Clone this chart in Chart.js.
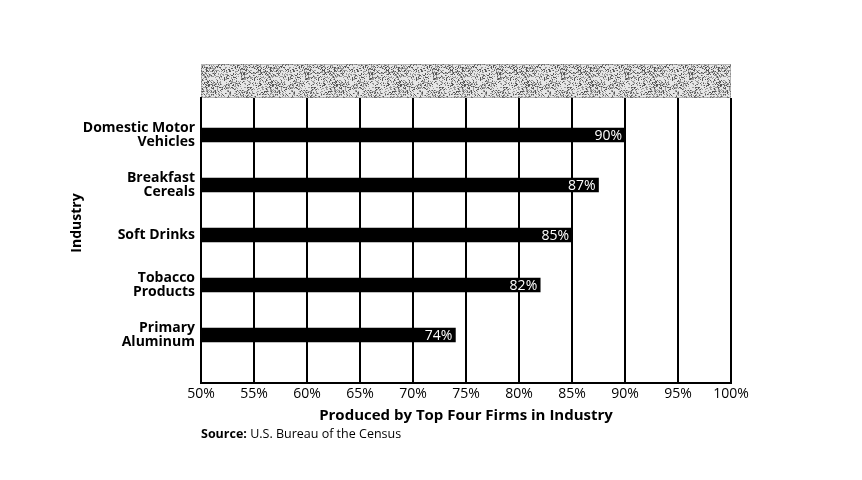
<!DOCTYPE html>
<html>
<head>
<meta charset="utf-8">
<script src="https://cdn.jsdelivr.net/npm/chart.js@4.4.0/dist/chart.umd.min.js"></script>
<style>
  html, body { margin: 0; padding: 0; background: #fff; }
  #wrap { width: 862px; height: 480px; }
</style>
</head>
<body>
<div id="wrap"><canvas id="concChart"></canvas></div>
<script>
// 行业与份额（四大企业产出占比）
const industries = [
    ['Domestic Motor', 'Vehicles'],
    ['Breakfast', 'Cereals'],
    ['Soft Drinks'],
    ['Tobacco', 'Products'],
    ['Primary', 'Aluminum']
];
const shares = [90, 87.5, 85, 82, 74];          // 图中条形长度
const shareLabels = ['90%', '87%', '85%', '82%', '74%']; // 条内标注
const xTicks = [50, 55, 60, 65, 70, 75, 80, 85, 90, 95, 100];

const FONT = "'Open Sans', 'DejaVu Sans', sans-serif";
Chart.defaults.font.family = FONT;
Chart.defaults.color = '#000';

// 点状纹理（顶部灰框）
function makeStipple() {
    const c = document.createElement('canvas');
    c.width = 64; c.height = 64;
    const g = c.getContext('2d');
    g.fillStyle = '#e6e6e6';
    g.fillRect(0, 0, 64, 64);
    let s = 12345;
    for (let y = 0; y < 64; y++) {
        for (let x = 0; x < 64; x++) {
            s = (s * 1103515245 + 12345) & 0x7fffffff;
            const r = (s >> 8) % 100;
            if (r < 38) {
                g.fillStyle = r < 14 ? '#555' : '#999';
                g.fillRect(x, y, 1, 1);
            }
        }
    }
    return c;
}

const stippleBox = {
    id: 'stippleBox',
    beforeDraw(chart) {
        const { ctx, chartArea } = chart;
        const h = 34;
        ctx.save();
        ctx.fillStyle = ctx.createPattern(makeStipple(), 'repeat');
        ctx.fillRect(chartArea.left, chartArea.top - h, chartArea.right - chartArea.left, h);
        ctx.strokeStyle = '#888';
        ctx.lineWidth = 1;
        ctx.setLineDash([1, 1]);
        ctx.strokeRect(chartArea.left + 0.5, chartArea.top - h + 0.5, chartArea.right - chartArea.left - 1, h - 1);
        ctx.restore();
    }
};

const barLabels = {
    id: 'barLabels',
    afterDatasetsDraw(chart) {
        const { ctx } = chart;
        const meta = chart.getDatasetMeta(0);
        ctx.save();
        ctx.font = '14px ' + FONT;
        ctx.fillStyle = '#fff';
        ctx.textAlign = 'right';
        ctx.textBaseline = 'middle';
        meta.data.forEach((bar, i) => {
            ctx.fillText(shareLabels[i], bar.x - 3, bar.y + 1);
        });
        ctx.restore();
    }
};

// 纵轴标题 + 资料来源
const extraText = {
    id: 'extraText',
    afterDraw(chart) {
        const { ctx, chartArea } = chart;
        ctx.save();
        ctx.fillStyle = '#000';
        ctx.textBaseline = 'middle';
        ctx.textAlign = 'center';
        ctx.translate(77, 223);
        ctx.rotate(-Math.PI / 2);
        ctx.font = 'bold 14px ' + FONT;
        ctx.fillText('Industry', 0, 0);
        ctx.setTransform(1, 0, 0, 1, 0, 0);
        ctx.restore();

        ctx.save();
        ctx.fillStyle = '#000';
        ctx.textBaseline = 'middle';
        ctx.textAlign = 'left';
        ctx.font = 'bold 12.5px ' + FONT;
        const lbl = 'Source:';
        ctx.fillText(lbl, chartArea.left, 434);
        const w = ctx.measureText(lbl).width;
        ctx.font = '12.5px ' + FONT;
        ctx.fillText(' U.S. Bureau of the Census', chartArea.left + w, 434);
        ctx.restore();
    }
};

new Chart(document.getElementById('concChart'), {
    type: 'bar',
    data: {
        datasets: [{
            data: shares.map((v, i) => ({ x: v, y: i })),
            backgroundColor: '#000',
            barThickness: 14,
            borderWidth: 0
        }]
    },
    options: {
        responsive: true,
        maintainAspectRatio: false,
        animation: false,
        indexAxis: 'y',
        layout: { padding: { top: 98, right: 131, bottom: 55, left: 60 } },
        plugins: {
            legend: { display: false },
            tooltip: { enabled: false }
        },
        scales: {
            x: {
                type: 'linear',
                min: 50,
                max: 100,
                afterBuildTicks: (s) => { s.ticks = xTicks.map(v => ({ value: v })); },
                afterFit: (s) => { s.height = 42; },
                ticks: { callback: (v) => v + '%', font: { size: 14 }, padding: 3 },
                grid: { color: '#000', lineWidth: 2, drawTicks: false },
                border: { color: '#000', width: 2 },
                title: {
                    display: true,
                    text: 'Produced by Top Four Firms in Industry',
                    font: { size: 15, weight: 'bold' },
                    padding: { top: 0, bottom: 0 }
                }
            },
            y: {
                type: 'linear',
                offset: false,
                min: -0.74,
                max: 4.96,
                reverse: true,
                afterBuildTicks: (s) => { s.ticks = industries.map((_, i) => ({ value: i })); },
                afterFit: (s) => { s.width = 141; },
                ticks: {
                    callback: (v) => industries[v],
                    font: { size: 14, weight: 'bold', lineHeight: 1.0 },
                    padding: 6
                },
                grid: { display: false, drawTicks: false, offset: false },
                border: { color: '#000', width: 2 },
                title: { display: false }
            }
        }
    },
    plugins: [stippleBox, barLabels, extraText]
});
</script>
</body>
</html>
